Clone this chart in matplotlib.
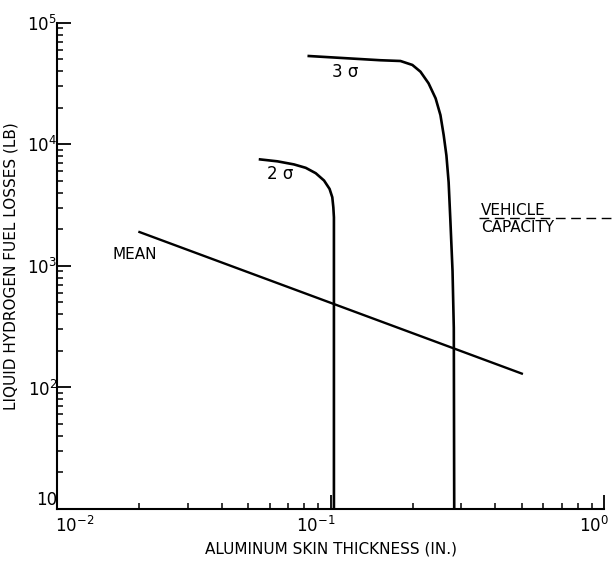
import matplotlib
matplotlib.use("Agg")
import matplotlib.pyplot as plt
import matplotlib.transforms as mtransforms
from matplotlib.ticker import NullFormatter

# curves (log-log)
mean_x = [0.02, 0.5]
mean_y = [1900, 130]

sig2_x = [0.0552, 0.0639, 0.0734, 0.0811, 0.0882, 0.0946, 0.0991,
          0.1014, 0.1023, 0.1028, 0.1028]
sig2_y = [7520, 7250, 6840, 6410, 5790, 5040, 4300,
          3670, 3030, 2510, 10]

sig3_x = [0.0832, 0.152, 0.180, 0.199, 0.213, 0.228, 0.242, 0.252, 0.259,
          0.265, 0.270, 0.274, 0.279, 0.282, 0.283]
sig3_y = [53300, 49200, 48500, 45000, 39600, 31800, 23900, 17400, 11900,
          8100, 4880, 2360, 910, 309, 10]

capacity_x = [0.35, 1.09]
capacity_y = [2500, 2500]

y_ticks = [10, 1e2, 1e3, 1e4, 1e5]
y_labels = ["10", "$10^2$", "$10^3$", "$10^4$", "$10^5$"]
x_ticks = [1e-2, 1e-1, 1e0]
x_labels = ["$10^{-2}$", "$10^{-1}$", "$10^0$"]

plt.rcParams["mathtext.default"] = "regular"
plt.rcParams["font.family"] = "DejaVu Sans"

fig = plt.figure(figsize=(6.14, 5.70), dpi=100)
ax = fig.add_axes([0.093, 0.107, 0.891, 0.853])

ax.plot(mean_x, mean_y, color="black", lw=1.7)
ax.plot(sig2_x, sig2_y, color="black", lw=1.9)
ax.plot(sig3_x, sig3_y, color="black", lw=1.9)
ax.plot(capacity_x, capacity_y, color="black", lw=1.0,
        dashes=(7, 4), clip_on=False)

ax.set_xscale("log")
ax.set_yscale("log")
ax.set_xlim(1e-2, 1)
ax.set_ylim(10, 1e5)

ax.set_xticks(x_ticks)
ax.set_xticklabels(x_labels, fontsize=12)
ax.set_yticks(y_ticks)
ax.set_yticklabels(y_labels, fontsize=12)

ax.tick_params(which="major", direction="in", length=10, width=1.3)
ax.tick_params(which="minor", direction="in", length=4.5, width=1.1)
ax.tick_params(axis="x", which="major", pad=5)
ax.tick_params(axis="y", which="major", pad=0)
ax.yaxis.set_minor_formatter(NullFormatter())
ax.xaxis.set_minor_formatter(NullFormatter())

# label placement as in the original drawing
xl = ax.get_xticklabels()
xl[0].set_horizontalalignment("left")
shift = mtransforms.ScaledTranslation(0.05, 0, fig.dpi_scale_trans)
for lab in xl[1:]:
    lab.set_horizontalalignment("right")
    lab.set_transform(lab.get_transform() + shift)
shift_left = mtransforms.ScaledTranslation(-0.02, 0, fig.dpi_scale_trans)
xl[0].set_transform(xl[0].get_transform() + shift_left)
ax.get_yticklabels()[0].set_verticalalignment("bottom")

for side in ["top", "right"]:
    ax.spines[side].set_visible(False)
for side in ["left", "bottom"]:
    ax.spines[side].set_linewidth(1.5)

ax.set_xlabel("ALUMINUM SKIN THICKNESS (IN.)", fontsize=11, labelpad=4)
ax.set_ylabel("LIQUID HYDROGEN FUEL LOSSES (LB)", fontsize=11, labelpad=6)

ax.text(0.0159, 1150, "MEAN", fontsize=11)
ax.text(0.0583, 5200, "2 σ", fontsize=12)
ax.text(0.101, 36000, "3 σ", fontsize=12)
ax.text(0.355, 2620, "VEHICLE", fontsize=11)
ax.text(0.355, 2380, "CAPACITY", fontsize=11, va="top")

fig.savefig("out.png", dpi=100)
